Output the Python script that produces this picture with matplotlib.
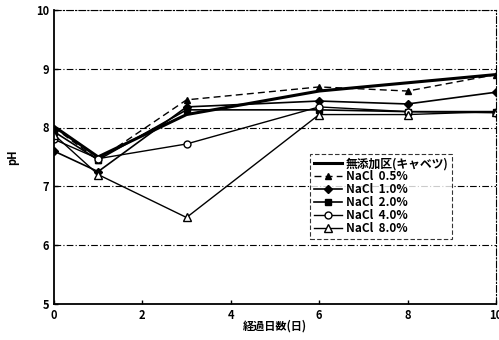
"""pH change over storage days by NaCl level"""

import matplotlib
matplotlib.use("Agg")
import matplotlib.pyplot as plt

plt.rcParams["font.family"] = ["Noto Sans CJK JP", "DejaVu Sans"]
plt.rcParams["font.weight"] = "bold"

days = [0, 1, 3, 6, 8, 10]

# pH readings per treatment
ph_control = [8.02, 7.50, 8.22, 8.62, 8.76, 8.90]
ph_nacl_05 = [8.00, 7.45, 8.47, 8.69, 8.62, 8.90]
ph_nacl_10 = [7.60, 7.25, 8.35, 8.45, 8.40, 8.60]
ph_nacl_20 = [7.93, 7.45, 8.30, 8.30, 8.27, 8.27]
ph_nacl_40 = [7.80, 7.47, 7.72, 8.35, 8.27, 8.25]
ph_nacl_80 = [7.88, 7.20, 6.47, 8.22, 8.22, 8.27]

labels = ["無添加区(キャベツ)", "NaCl  0.5%", "NaCl  1.0%",
          "NaCl  2.0%", "NaCl  4.0%", "NaCl  8.0%"]

fig = plt.figure(figsize=(4.99, 3.4), dpi=100)
ax = fig.add_axes([0.108, 0.106, 0.886, 0.865])

# horizontal grid, dash-dot like the scan
for y in [6, 7, 8, 9, 10]:
    ax.axhline(y, color="black", lw=0.8, ls=(0, (6, 2, 1, 2)), zorder=0)

ax.plot(days, ph_control, color="black", lw=2.2, label=labels[0])
ax.plot(days, ph_nacl_05, color="black", lw=1.0, ls=(0, (5, 3)),
        marker="^", ms=5, mfc="black", label=labels[1])
ax.plot(days, ph_nacl_10, color="black", lw=1.2,
        marker="D", ms=4, mfc="black", label=labels[2])
ax.plot(days, ph_nacl_20, color="black", lw=1.2,
        marker="s", ms=4.5, mfc="black", label=labels[3])
ax.plot(days, ph_nacl_40, color="black", lw=1.0,
        marker="o", ms=5, mfc="white", label=labels[4])
ax.plot(days, ph_nacl_80, color="black", lw=1.0,
        marker="^", ms=6, mfc="white", label=labels[5])

ax.set_xlim(0, 10)
ax.set_ylim(5, 10)
ax.set_xticks([0, 2, 4, 6, 8, 10])
ax.set_yticks([5, 6, 7, 8, 9, 10])
ax.tick_params(direction="in", length=3, labelsize=8, width=1)
for lab in ax.get_xticklabels() + ax.get_yticklabels():
    lab.set_fontweight("bold")
for side in ["left", "bottom"]:
    ax.spines[side].set_linewidth(1.3)
for side in ["right", "top"]:
    ax.spines[side].set_linewidth(0.8)
    ax.spines[side].set_linestyle((0, (6, 2, 1, 2)))

ax.set_xlabel("経過日数(日)", fontsize=8, fontweight="bold", labelpad=-2)
ax.set_ylabel("pH", fontsize=8, fontweight="bold", labelpad=12)

leg = ax.legend(loc="lower left", bbox_to_anchor=(0.58, 0.222),
                fontsize=8.5, frameon=True, fancybox=False,
                handlelength=2.4, handletextpad=0.3, labelspacing=0.0,
                borderpad=0.3, borderaxespad=0)
leg.get_frame().set_edgecolor("black")
leg.get_frame().set_linewidth(0.8)
leg.get_frame().set_linestyle((0, (4, 2)))
for t in leg.get_texts():
    t.set_fontweight("bold")

plt.savefig("out.png", dpi=100)
